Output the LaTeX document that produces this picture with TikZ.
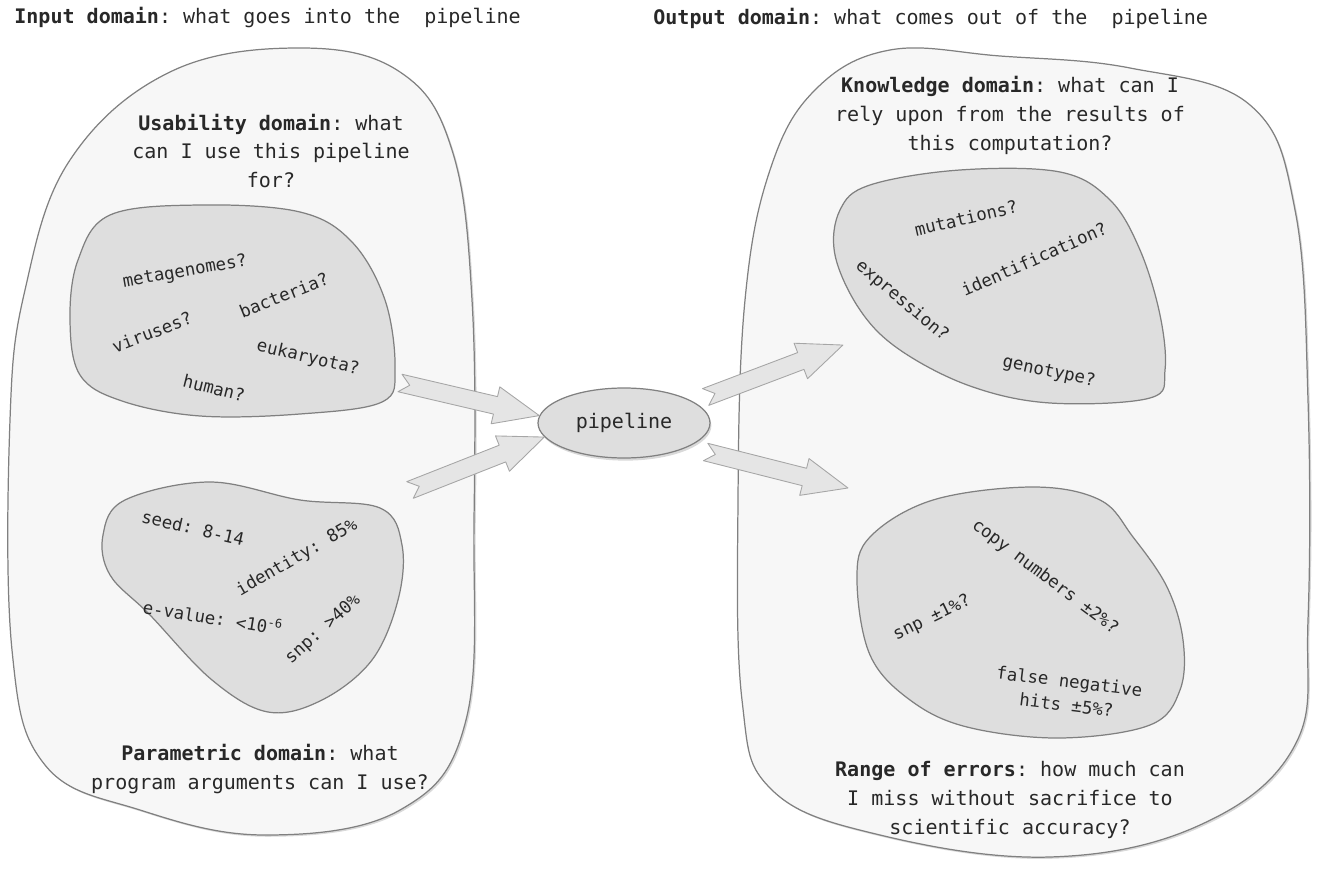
\documentclass[tikz,border=0pt]{standalone}
\usepackage{fontspec}
\setmonofont{DejaVu Sans Mono}
\usepackage{tikz}
\usetikzlibrary{calc,shapes.geometric,shadows}

\definecolor{blobline}{RGB}{128,128,128}
\definecolor{outerfill}{RGB}{247,247,247}
\definecolor{innerfill}{RGB}{222,222,222}
\definecolor{arrowfill}{RGB}{229,229,229}
\definecolor{txt}{RGB}{40,40,40}

\tikzset{
  outerblob/.style={draw=blobline, fill=outerfill, line width=0.7pt,
    drop shadow={shadow xshift=1pt, shadow yshift=-1pt, opacity=0.3}},
  innerblob/.style={draw=blobline, fill=innerfill, line width=0.7pt},
  domtext/.style={font=\ttfamily\fontsize{11.4}{16.5}\selectfont, text=txt,
    align=center, inner sep=0pt},
  qtext/.style={font=\ttfamily\fontsize{9.9}{13.5}\selectfont, text=txt,
    align=center, inner sep=0pt},
  fatarr/.style={draw=gray!70, fill=arrowfill, line width=0.5pt, line join=round},
}

% block arrow with notched tail, from #1 to #2
\newcommand{\fatarrow}[2]{%
  \path[fatarr] let \p1=(#1), \p2=(#2),
      \n1={atan2(\y2-\y1,\x2-\x1)}, \n2={veclen(\x2-\x1,\y2-\y1)} in
    ([shift={(\p1)},rotate=\n1]0pt,5.1pt)
    -- ([shift={(\p1)},rotate=\n1]{\n2-25.6pt},5.1pt)
    -- ([shift={(\p1)},rotate=\n1]{\n2-25.6pt},10.8pt)
    -- ([shift={(\p1)},rotate=\n1]{\n2+0pt},0pt)
    -- ([shift={(\p1)},rotate=\n1]{\n2-25.6pt},-10.8pt)
    -- ([shift={(\p1)},rotate=\n1]{\n2-25.6pt},-5.1pt)
    -- ([shift={(\p1)},rotate=\n1]0pt,-5.1pt)
    -- ([shift={(\p1)},rotate=\n1]5.7pt,0pt)
    -- cycle;}

\begin{document}
\begin{tikzpicture}[x=0.02cm, y=-0.02cm]
  \useasboundingbox (0,0) rectangle (1318,871);

  % headers
  \node[domtext, anchor=west] (inhead) at (14,18)
    {\textbf{Input domain}: what goes into the\ \ pipeline};
  \node[domtext, anchor=west] (outhead) at (653,18)
    {\textbf{Output domain}: what comes out of the\ \ pipeline};

  % input domain
  \draw[outerblob] plot[smooth cycle, tension=0.65] coordinates {
    (300,48) (400,72) (452,150) (472,300) (474,520) (466,720) (400,810)
    (265,835) (140,810) (45,765) (12,650) (10,420) (25,290) (70,160) (170,72)};
  \node[domtext] (usetxt) at (271,151)
    {\textbf{Usability domain}: what\\can I use this pipeline\\for?};
  \node[domtext] (partxt) at (260,769)
    {\textbf{Parametric domain}: what\\program arguments can I use?};

  \draw[innerblob] plot[smooth cycle, tension=0.6] coordinates {
    (110,215) (200,205) (300,212) (352,242) (385,300) (395,368) (382,402)
    (300,414) (200,416) (122,401) (80,375) (70,320) (78,260)};
  \node[qtext, rotate=10] (meta) at (185,272) {metagenomes?};
  \node[qtext, rotate=22] (bact) at (284,295) {bacteria?};
  \node[qtext, rotate=21] (viru) at (152,332) {viruses?};
  \node[qtext, rotate=-13] (euka) at (308,358) {eukaryota?};
  \node[qtext, rotate=-14] (huma) at (214,388) {human?};

  \draw[innerblob] plot[smooth cycle, tension=0.6] coordinates {
    (125,500) (210,482) (300,500) (380,508) (402,545) (398,600) (372,660)
    (322,700) (268,712) (212,680) (150,615) (110,575) (103,535)};
  \node[qtext, rotate=-13] (seed) at (193,528) {seed: 8-14};
  \node[qtext, rotate=30] (iden) at (297,558) {identity: 85\%};
  \node[qtext, rotate=-9] (eval) at (213,617) {e-value: <10\textsuperscript{-6}};
  \node[qtext, rotate=42] (snpin) at (323,630) {snp: >40\%};

  % output domain
  \draw[outerblob] plot[smooth cycle, tension=0.65] coordinates {
    (890,50) (1000,56) (1130,68) (1250,105) (1295,210) (1308,400) (1308,620)
    (1295,745) (1200,825) (1050,857) (880,835) (772,790) (742,700) (738,500)
    (745,300) (770,170) (815,90)};
  \node[domtext] (knowtxt) at (1010,115)
    {\textbf{Knowledge domain}: what can I\\rely upon from the results of\\this computation?};
  \node[domtext] (errtxt) at (1010,800)
    {\textbf{Range of errors}: how much can\\I miss without sacrifice to\\scientific accuracy?};

  \draw[innerblob] plot[smooth cycle, tension=0.6] coordinates {
    (870,185) (960,170) (1060,172) (1110,200) (1140,250) (1160,315) (1165,370)
    (1150,398) (1050,403) (970,386) (900,350) (860,310) (835,255) (840,210)};
  \node[qtext, rotate=13] (muta) at (966,218) {mutations?};
  \node[qtext, rotate=24] (iden2) at (1034,259) {identification?};
  \node[qtext, rotate=-40] (expr) at (902,301) {expression?};
  \node[qtext, rotate=-12] (geno) at (1049,372) {genotype?};

  \draw[innerblob] plot[smooth cycle, tension=0.6] coordinates {
    (933,500) (1033,487) (1100,500) (1133,537) (1167,587) (1183,640) (1180,690)
    (1150,725) (1060,738) (967,727) (910,700) (870,655) (857,580) (870,537)};
  \node[qtext, rotate=-37] (copy) at (1045,577) {copy numbers ±2\%?};
  \node[qtext, rotate=26] (snpout) at (932,618) {snp ±1\%?};
  \node[qtext, rotate=-7] (fneg) at (1068,693) {false negative\\hits ±5\%?};

  % pipeline
  \node[ellipse, draw=blobline, fill=innerfill, line width=0.7pt,
        minimum width=172*0.02cm, minimum height=70*0.02cm, inner sep=0pt,
        drop shadow={shadow xshift=0.8pt, shadow yshift=-1.5pt, opacity=0.3},
        font=\ttfamily\fontsize{11.4}{14}\selectfont, text=txt]
    (pipe) at (624,423) {pipeline};

  \coordinate (useout) at (400,383);
  \coordinate (parout) at (410,490);
  \coordinate (knowin) at (843,345);
  \coordinate (errin) at (848,488);

  \fatarrow{useout}{pipe.175}
  \fatarrow{parout}{pipe.190}
  \fatarrow{$(pipe.east)+(-5,-26)$}{knowin}
  \fatarrow{$(pipe.east)+(-5,29)$}{errin}
\end{tikzpicture}
\end{document}
